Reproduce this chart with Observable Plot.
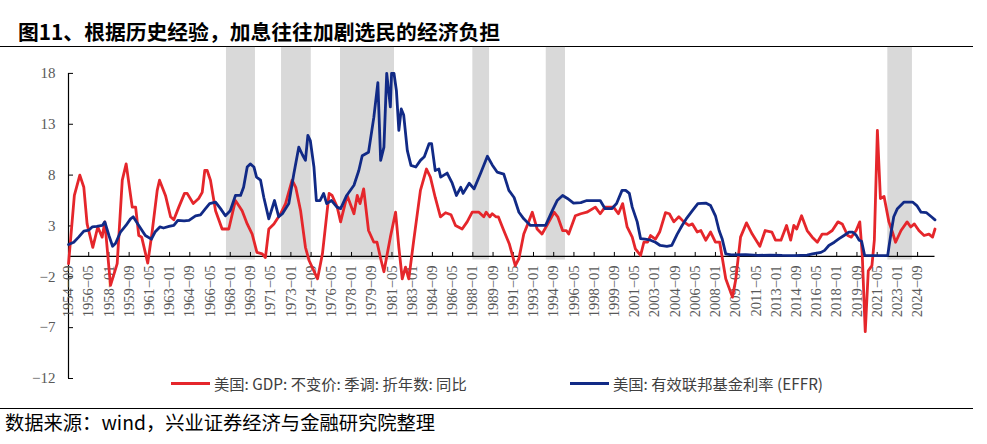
<!DOCTYPE html>
<html><head><meta charset="utf-8">
<script src="https://cdn.jsdelivr.net/npm/d3@7"></script>
<script src="https://cdn.jsdelivr.net/npm/@observablehq/plot@0.6"></script>
<style>
body{margin:0;background:#fff;width:987px;height:444px;position:relative;overflow:hidden;font-family:"Noto Sans CJK SC",sans-serif}
#title{position:absolute;left:18px;top:18px;font-size:20.8px;font-weight:bold;color:#000;line-height:26px;white-space:nowrap}
.rule{position:absolute;left:0;width:973px;height:0;border-top:1.4px solid #000}
#chart{position:absolute;left:0;top:47px}
#legend{position:absolute;top:374px;left:0;width:987px;height:18px;font-size:15.3px;color:#404040}
.item{position:absolute;top:0;display:flex;align-items:center;white-space:nowrap;height:18px}
.sw{display:inline-block;width:39px;height:3px;margin-right:4px}
#source{position:absolute;left:5px;top:410px;font-size:19.3px;line-height:24px;color:#000;white-space:nowrap}
g[aria-label="xticklabel"] text{letter-spacing:1px}
</style></head><body>
<div id="title">图11、根据历史经验，加息往往加剧选民的经济负担</div>
<div class="rule" style="top:46px"></div>
<div id="chart"></div>
<div id="legend"></div>
<div class="rule" style="top:408px"></div>
<div id="source">数据来源：wind，兴业证券经济与金融研究院整理</div>
<script>
// ---- data ----
const gdpTime = [1954.67,1955.15,1955.6,1955.93,1956.2,1956.67,1957.08,1957.44,1957.66,1958.13,1958.68,1959.1,1959.42,1959.92,1960.2,1960.46,1960.7,1961.2,1961.56,1961.98,1962.17,1962.66,1963.08,1963.35,1963.76,1964.23,1964.45,1964.95,1965.4,1965.69,1965.9,1966.1,1966.37,1966.79,1967.33,1967.88,1968.43,1968.98,1969.4,1969.81,1970.2,1970.64,1970.9,1971.18,1971.6,1972.15,1972.56,1973.1,1973.4,1973.8,1974.2,1974.5,1975.2,1975.6,1976.15,1976.4,1976.82,1977.1,1977.64,1978.2,1978.47,1978.7,1979.0,1979.4,1979.84,1980.1,1980.4,1980.67,1981.2,1981.63,1981.9,1982.18,1982.45,1982.72,1983.13,1983.68,1984.18,1984.5,1984.9,1985.33,1985.75,1986.2,1986.57,1987.12,1987.53,1987.95,1988.5,1988.9,1989.1,1989.4,1989.6,1989.9,1990.1,1990.5,1991.0,1991.5,1991.8,1992.2,1992.6,1992.9,1993.3,1993.7,1994.1,1994.7,1995.0,1995.4,1995.7,1995.9,1996.45,1996.9,1997.4,1998.1,1998.5,1998.9,1999.6,2000.0,2000.35,2000.72,2001.14,2001.4,2001.83,2002.1,2002.4,2002.65,2003.05,2003.4,2003.88,2004.2,2004.57,2004.98,2005.4,2005.8,2006.1,2006.5,2006.8,2007.2,2007.6,2008.0,2008.35,2008.85,2009.4,2009.67,2010.07,2010.56,2011.03,2011.3,2011.66,2012.1,2012.65,2012.95,2013.4,2013.86,2014.2,2014.46,2014.7,2015.1,2015.56,2015.98,2016.4,2016.8,2017.2,2017.63,2018.1,2018.45,2018.9,2019.2,2019.6,2019.9,2020.1,2020.35,2020.6,2020.9,2021.1,2021.35,2021.6,2021.9,2022.3,2022.55,2022.85,2023.3,2023.8,2024.1,2024.4,2024.77,2025.2,2025.6,2025.9,2026.1];
const gdpValue = [-0.7,6.0,8.0,6.8,3.2,0.9,2.9,1.9,3.4,-2.85,-0.7,7.5,9.1,4.85,4.85,2.06,1.9,-0.65,2.4,6.5,7.5,6.0,3.9,3.6,4.85,6.2,6.2,5.2,5.7,6.3,8.45,8.45,7.5,4.5,2.7,2.7,5.5,4.5,3.2,2.2,0.4,0.26,-0.1,2.7,3.2,4.2,5.2,7.5,6.8,4.5,0.9,-0.4,-2.2,0.26,6.2,6.0,4.85,3.4,6.0,4.2,6.0,5.2,6.65,2.55,1.4,1.4,-0.2,-1.5,1.9,4.35,0.9,-2.2,-1.05,-2.2,1.6,6.5,8.6,7.8,5.8,3.9,4.3,4.1,3.05,2.7,3.4,4.35,4.35,3.9,4.35,3.9,4.2,3.9,3.9,2.7,1.25,-0.9,-0.2,2.2,3.4,4.35,2.7,2.2,3.05,4.35,3.9,2.55,2.55,2.2,4.0,4.2,4.35,4.85,4.2,4.85,4.85,4.2,5.2,2.9,1.9,0.75,0.1,1.4,1.4,2.06,1.7,2.4,4.3,4.2,3.4,3.9,3.4,3.05,3.2,2.4,2.55,1.6,2.4,1.4,1.4,-2.2,-4.0,-2.3,1.9,3.3,2.2,1.7,1.0,2.55,2.4,1.6,1.6,3.05,1.6,3.05,2.7,4.0,2.55,1.9,1.4,2.2,2.2,2.55,3.4,3.2,2.06,1.9,2.55,3.4,0.26,-7.4,-1.4,-0.9,1.6,12.4,5.7,5.9,3.4,2.55,1.4,2.55,3.4,2.9,3.2,2.55,2.06,2.2,1.9,2.7];

const effrTime = [1954.67,1955.1,1955.5,1955.93,1956.35,1956.62,1957.0,1957.45,1957.66,1958.0,1958.3,1958.55,1958.95,1959.4,1959.78,1960.0,1960.46,1961.0,1961.5,1961.8,1962.2,1962.5,1962.95,1963.35,1963.68,1964.2,1964.6,1965.14,1965.55,1965.96,1966.3,1966.79,1967.2,1967.6,1968.0,1968.43,1968.85,1969.1,1969.4,1969.65,1969.95,1970.17,1970.5,1970.77,1971.18,1971.65,1972.0,1972.3,1972.83,1973.24,1973.65,1973.95,1974.2,1974.4,1974.6,1974.9,1975.1,1975.4,1975.7,1975.95,1976.35,1976.8,1977.1,1977.6,1978.2,1978.6,1978.88,1979.4,1979.84,1980.17,1980.4,1980.67,1980.9,1981.2,1981.3,1981.5,1981.7,1981.9,1982.1,1982.3,1982.6,1982.9,1983.3,1983.68,1984.0,1984.4,1984.6,1984.9,1985.2,1985.35,1985.88,1986.3,1986.65,1987.0,1987.2,1987.7,1988.1,1988.65,1989.2,1989.6,1990.0,1990.55,1990.97,1991.4,1991.8,1992.2,1992.75,1993.3,1994.0,1994.55,1994.95,1995.4,1995.8,1996.3,1996.9,1997.4,1997.95,1998.5,1998.9,1999.45,1999.85,2000.3,2000.6,2000.9,2001.14,2001.55,2001.83,2002.2,2002.65,2003.05,2003.45,2004.0,2004.4,2004.85,2005.25,2005.65,2006.1,2006.55,2007.2,2007.6,2008.0,2008.3,2008.55,2008.85,2009.3,2010.5,2011.5,2012.5,2013.5,2014.5,2015.56,2016.0,2016.7,2017.0,2017.35,2017.8,2018.2,2018.6,2019.0,2019.3,2019.6,2019.85,2020.05,2020.3,2021.0,2021.8,2022.2,2022.3,2022.5,2022.7,2023.0,2023.55,2024.25,2024.6,2024.95,2025.4,2025.8,2026.1];
const effrValue = [1.18,1.4,1.9,2.5,2.6,2.9,2.95,3.05,3.4,2.06,1.0,1.3,2.4,3.05,3.7,3.9,3.05,2.06,1.7,2.4,2.9,2.8,2.95,3.05,3.55,3.5,3.55,4.0,4.1,4.7,5.2,5.35,4.7,4.0,4.5,6.0,6.0,6.8,8.8,9.1,8.8,7.8,7.5,5.8,3.7,5.5,3.9,4.2,5.2,8.1,10.75,10.0,9.45,11.9,11.4,8.8,5.5,5.5,6.2,5.2,5.5,4.85,4.7,6.0,7.0,8.45,9.9,10.25,13.7,17.1,9.45,10.75,18.0,14.7,18.0,18.0,16.3,12.4,14.5,13.9,10.4,8.95,8.8,9.45,9.8,11.1,11.1,8.45,8.6,7.8,8.2,7.2,6.0,6.8,6.2,7.2,6.65,8.2,9.85,9.0,8.3,8.1,6.5,5.8,4.35,3.7,3.05,3.05,3.05,4.5,5.5,6.0,5.7,5.25,5.3,5.5,5.5,5.5,4.7,4.7,5.2,6.5,6.5,6.2,4.85,3.4,1.75,1.7,1.6,1.4,1.08,1.0,1.08,2.2,3.05,3.8,4.5,5.2,5.25,5.0,4.0,2.55,1.75,0.26,0.15,0.18,0.1,0.14,0.1,0.09,0.13,0.26,0.4,0.6,1.08,1.4,1.75,2.06,2.4,2.4,2.1,1.6,1.5,0.1,0.08,0.08,0.1,0.9,2.5,3.9,4.7,5.35,5.35,5.0,4.35,4.3,3.9,3.6];

const bandStart = [1967.69, 1972.23, 1977.09, 1988.0, 1994.05, 2022.21];
const bandEnd   = [1970.08, 1974.68, 1981.54, 1989.38, 1995.64, 2024.24];

const xTickLabels = ["1954-09","1956-05","1958-01","1959-09","1961-05","1963-01","1964-09","1966-05","1968-01","1969-09","1971-05","1973-01","1974-09","1976-05","1978-01","1979-09","1981-05","1983-01","1984-09","1986-05","1988-01","1989-09","1991-05","1993-01","1994-09","1996-05","1998-01","1999-09","2001-05","2003-01","2004-09","2006-05","2008-01","2009-09","2011-05","2013-01","2014-09","2016-05","2018-01","2019-09","2021-05","2023-01","2024-09"];
const yTicks = [-12, -7, -2, 3, 8, 13, 18];
const yTickLabels = ["−12", "−7", "−2", "3", "8", "13", "18"];
const seriesNames = ["美国: GDP: 不变价: 季调: 折年数: 同比", "美国: 有效联邦基金利率 (EFFR)"];
const seriesColors = ["#e5262b", "#112a86"];

// ---- build ----
const toYear = s => { const [y, m] = s.split("-").map(Number); return y + (m - 1) / 12; };
const xTicks = xTickLabels.map(toYear);
const gdp = gdpTime.map((t, i) => ({t, v: gdpValue[i]}));
const effr = effrTime.map((t, i) => ({t, v: effrValue[i]}));
const bands = bandStart.map((s, i) => ({s, e: bandEnd[i]}));
const xMin = xTicks[0], xMax = 2026.1;

const W = 987, H = 345;
const chart = Plot.plot({
  width: W, height: H,
  marginLeft: 68, marginRight: W - 934.5, marginTop: 25.9, marginBottom: H - 331,
  style: {background: "transparent", overflow: "visible"},
  x: {domain: [xMin, xMax], axis: null},
  y: {domain: [-12, 18]},
  marks: [
    Plot.rect(bands, {x1: "s", x2: "e", y1: -0.35, y2: 20.55, fill: "#d9d9d9"}),
    Plot.ruleY([0], {stroke: "#000", strokeWidth: 1.2}),
    Plot.ruleX(xTicks, {y1: 0, y2: 0, insetTop: -4, stroke: "#000", strokeWidth: 1}),
    Plot.ruleX([xMin], {y1: -12, y2: 18, stroke: "#000", strokeWidth: 1.2}),
    Plot.ruleY(yTicks, {x1: xMin, x2: xMin, insetRight: -5, stroke: "#000", strokeWidth: 1}),
    Plot.axisY({ticks: yTicks, tickFormat: d => yTickLabels[yTicks.indexOf(d)], tickSize: 0, tickPadding: 13, label: null,
      fontSize: 15, fontFamily: "Liberation Serif", fill: "#595959"}),
    Plot.text(xTicks, {x: d => d, y: 0, text: (d, i) => xTickLabels[i].replace("-", "−"), rotate: -90, textAnchor: "end", dy: 9,
      fontSize: 14.5, fontFamily: "Liberation Serif", fill: "#595959", ariaLabel: "xticklabel"}),
    Plot.line(gdp, {x: "t", y: "v", stroke: seriesColors[0], strokeWidth: 2.8, strokeLinejoin: "round"}),
    Plot.line(effr, {x: "t", y: "v", stroke: seriesColors[1], strokeWidth: 2.8, strokeLinejoin: "round"})
  ]
});
document.getElementById("chart").appendChild(chart);

const legend = document.getElementById("legend");
const lefts = [171, 570];
seriesNames.forEach((name, i) => {
  const item = document.createElement("div");
  item.className = "item";
  item.style.left = lefts[i] + "px";
  item.innerHTML = `<span class="sw" style="background:${seriesColors[i]}"></span><span>${name}</span>`;
  legend.appendChild(item);
});
</script>
</body></html>
